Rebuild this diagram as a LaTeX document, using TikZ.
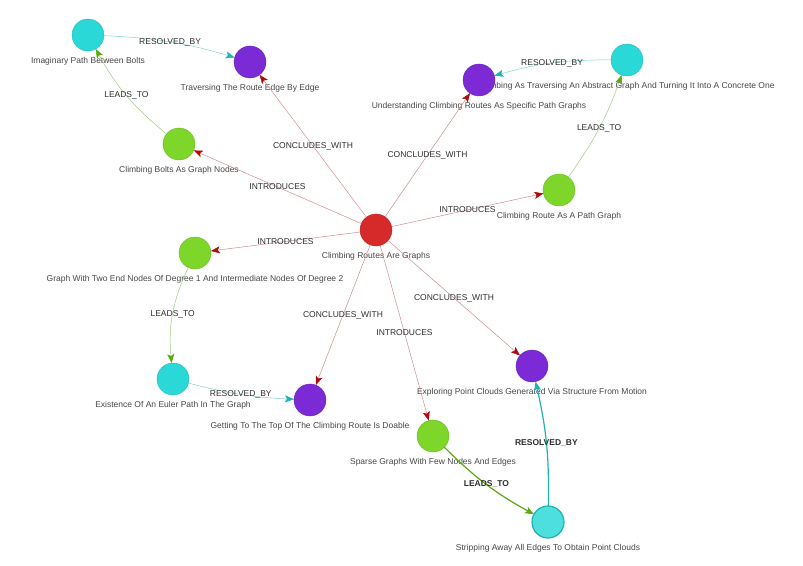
\documentclass[tikz,border=0pt]{standalone}
\usepackage{fontspec}
\setmainfont{Liberation Sans}
\usetikzlibrary{arrows.meta,positioning,calc}

\definecolor{topicRed}{HTML}{D62A2A}
\definecolor{topicPurple}{HTML}{7B2AD6}
\definecolor{topicGreen}{HTML}{7ED62A}
\definecolor{topicCyan}{HTML}{2AD8D8}
\definecolor{topicCyanSel}{HTML}{4DDEDE}
\definecolor{lineRed}{HTML}{D08C8C}
\definecolor{tipRed}{HTML}{B00A0A}
\definecolor{lineGreen}{HTML}{9CCC80}
\definecolor{tipGreen}{HTML}{5BA80F}
\definecolor{lineCyan}{HTML}{80D0D0}
\definecolor{tipCyan}{HTML}{1FB2B2}

\begin{document}
\begin{tikzpicture}[
  x=1pt, y=-1pt,
  label distance=6pt,
  topic/.style={circle, minimum size=32pt, inner sep=0pt, outer sep=0pt, fill=#1, draw=#1!85!black, line width=0.4pt},
  nlabel/.style={font=\fontsize{8.5}{10}\selectfont, text=black!72, inner sep=0pt},
  elab/.style={font=\fontsize{8.5}{10}\selectfont, text=black!82, inner sep=1pt},
  relRed/.style={draw=lineRed, line width=0.5pt, -{Stealth[length=9pt,width=7pt,inset=2pt,color=tipRed]}},
  relGreen/.style={draw=lineGreen, line width=0.5pt, -{Stealth[length=9pt,width=7pt,inset=2pt,color=tipGreen]}},
  relCyan/.style={draw=lineCyan, line width=0.5pt, -{Stealth[length=9pt,width=7pt,inset=2pt,color=tipCyan]}}
]
\useasboundingbox (0,0) rectangle (803,565);

% Central topic
\node[topic=topicRed, label={[nlabel]below:Climbing Routes Are Graphs}] (graphs) at (376,230) {};

% Introduced concepts
\node[topic=topicGreen, label={[nlabel]below:Climbing Bolts As Graph Nodes}] (bolts) at (179,144) {};
\node[topic=topicGreen, label={[nlabel]below:Climbing Route As A Path Graph}] (pathGraph) at (559,190) {};
\node[topic=topicGreen, label={[nlabel]below:Graph With Two End Nodes Of Degree 1 And Intermediate Nodes Of Degree 2}] (twoEnds) at (195,253) {};
\node[topic=topicGreen, label={[nlabel]below:Sparse Graphs With Few Nodes And Edges}] (sparse) at (433,436) {};

% Problems
\node[topic=topicCyan, label={[nlabel]below:Imaginary Path Between Bolts}] (imagPath) at (88,35) {};
\node[topic=topicCyan, label={[nlabel]below:Climbing As Traversing An Abstract Graph And Turning It Into A Concrete One}] (abstract) at (627,60) {};
\node[topic=topicCyan, label={[nlabel]below:Existence Of An Euler Path In The Graph}] (euler) at (173,379) {};
\node[topic=topicCyanSel, draw=tipCyan, line width=1.2pt, label={[nlabel]below:Stripping Away All Edges To Obtain Point Clouds}] (strip) at (548,522) {};

% Conclusions
\node[topic=topicPurple, label={[nlabel]below:Traversing The Route Edge By Edge}] (traverse) at (250,62) {};
\node[topic=topicPurple, label={[nlabel]below:Understanding Climbing Routes As Specific Path Graphs}] (specific) at (479,80) {};
\node[topic=topicPurple, label={[nlabel]below:Getting To The Top Of The Climbing Route Is Doable}] (top) at (310,400) {};
\node[topic=topicPurple, label={[nlabel]below:Exploring Point Clouds Generated Via Structure From Motion}] (clouds) at (532,366) {};

% Edges from the central topic
\draw[relRed] (graphs) -- node[elab] {INTRODUCES} (bolts);
\draw[relRed] (graphs) -- node[elab] {INTRODUCES} (pathGraph);
\draw[relRed] (graphs) -- node[elab] {INTRODUCES} (twoEnds);
\draw[relRed] (graphs) -- node[elab] {INTRODUCES} (sparse);
\draw[relRed] (graphs) -- node[elab] {CONCLUDES\_WITH} (traverse);
\draw[relRed] (graphs) -- node[elab] {CONCLUDES\_WITH} (specific);
\draw[relRed] (graphs) -- node[elab] {CONCLUDES\_WITH} (top);
\draw[relRed] (graphs) -- node[elab] {CONCLUDES\_WITH} (clouds);

% Leads-to chains
\draw[relGreen] (bolts) to[bend left=11] node[elab] {LEADS\_TO} (imagPath);
\draw[relGreen] (pathGraph) to[bend right=8] node[elab] {LEADS\_TO} (abstract);
\draw[relGreen] (twoEnds) to[bend right=15] node[elab] {LEADS\_TO} (euler);
\draw[relGreen, draw=tipGreen, line width=1.2pt] (sparse) to[bend right=8] node[elab, font=\fontsize{8.5}{10}\selectfont\bfseries] {LEADS\_TO} (strip);

% Resolutions
\draw[relCyan] (imagPath) to[bend left=7] node[elab] {RESOLVED\_BY} (traverse);
\draw[relCyan] (abstract) to[bend right=8] node[elab] {RESOLVED\_BY} (specific);
\draw[relCyan] (euler) to[bend right=6] node[elab] {RESOLVED\_BY} (top);
\draw[relCyan, draw=tipCyan, line width=1.2pt] (strip) to[bend right=7] node[elab, font=\fontsize{8.5}{10}\selectfont\bfseries] {RESOLVED\_BY} (clouds);
\end{tikzpicture}
\end{document}
